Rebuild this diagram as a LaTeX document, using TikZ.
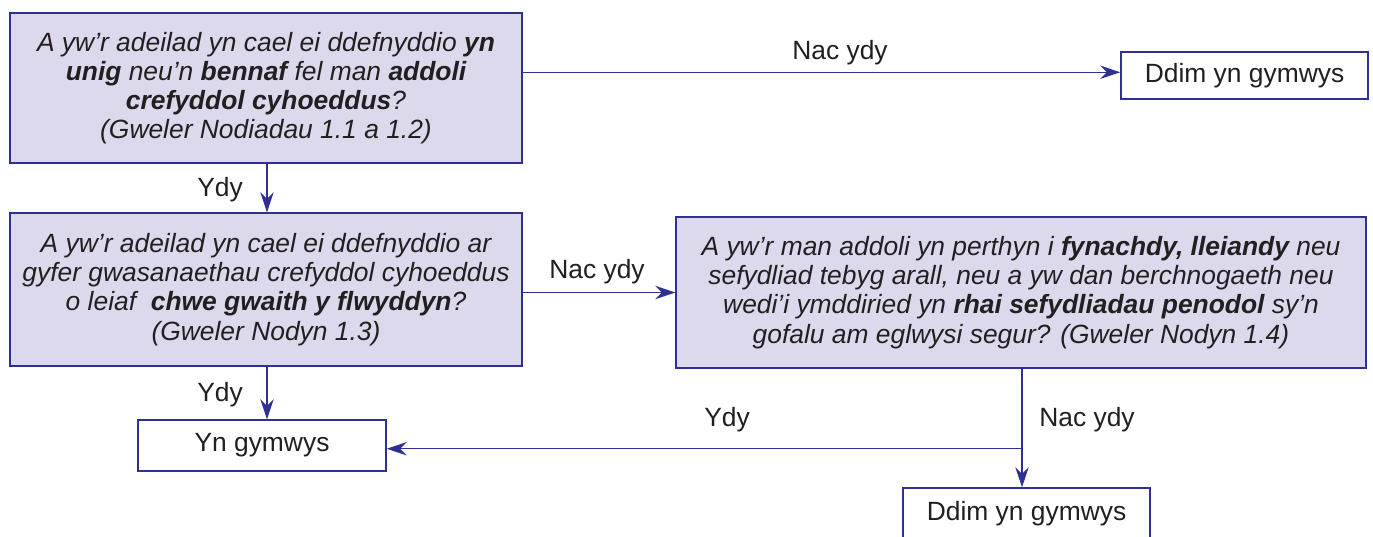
\documentclass[tikz,border=0pt]{standalone}
\usepackage{fontspec}
\setmainfont{Liberation Sans}
\usetikzlibrary{arrows.meta,calc}
\definecolor{navy}{HTML}{2E3192}
\definecolor{boxfill}{HTML}{DDD9ED}
\definecolor{txt}{HTML}{231F20}
\begin{document}
\begin{tikzpicture}[x=0.75pt,y=-0.75pt,
  qbox/.style={draw=navy, line width=1.1pt, fill=boxfill, text=txt, align=center, inner sep=0pt,
    font={\fontsize{19.8}{21.9}\selectfont\itshape}},
  abox/.style={draw=navy, line width=1.1pt, fill=white, text=txt, align=center, inner sep=0pt,
    font={\fontsize{19.8}{21.9}\selectfont}},
  lbl/.style={text=txt, inner sep=0pt, font={\fontsize{19.8}{21.9}\selectfont}},
  conn/.style={draw=navy, line width=1.1pt, -{Stealth[length=15pt,width=10pt,inset=5pt]}}]
\useasboundingbox (0,0) rectangle (1373,536);
\clip (0,0) rectangle (1373,536);

\node[qbox, minimum width=384pt, minimum height=112.5pt] (q1) at (266,88)
  {A yw’r adeilad yn cael ei ddefnyddio \textbf{yn}\\
   \textbf{unig} neu’n \textbf{bennaf} fel man \textbf{addoli}\\
   \textbf{crefyddol cyhoeddus}?\\
   (Gweler Nodiadau 1.1 a 1.2)};

\node[abox, minimum width=185.25pt, minimum height=35.25pt] (d1) at (1244.5,75.5) {Ddim yn gymwys};

\node[qbox, minimum width=384pt, minimum height=114.75pt] (q2) at (266,289.5)
  {A yw’r adeilad yn cael ei ddefnyddio ar\\
   gyfer gwasanaethau crefyddol cyhoeddus\\
   o leiaf \ \textbf{chwe gwaith y flwyddyn}?\\
   (Gweler Nodyn 1.3)};

\node[qbox, minimum width=517.5pt, minimum height=113.25pt] (q3) at (1021,292.5)
  {A yw’r man addoli yn perthyn i \textbf{fynachdy, lleiandy} neu\\
   sefydliad tebyg arall, neu a yw dan berchnogaeth neu\\
   wedi’i ymddiried yn \textbf{rhai sefydliadau penodol} sy’n\\
   gofalu am eglwysi segur? (Gweler Nodyn 1.4)};

\node[abox, minimum width=186pt, minimum height=38.25pt] (y1) at (262,445.5) {Yn gymwys};

\node[abox, minimum width=185.25pt, minimum height=38.25pt] (d2) at (1026.5,513.5) {Ddim yn gymwys};

% connectors
\path (q1.north east) ++(0,60) coordinate (s1);
\draw[conn] (s1) -- (s1 -| d1.west);
\node[lbl] (l1) at (840,53) {Nac ydy};

\path (267,0) coordinate (xa);
\draw[conn] (q1.south -| xa) -- (q2.north -| xa);
\node[lbl] (l2) at (220,190) {Ydy};

\draw[conn] (q2.east |- q3.west) -- (q3.west);
\node[lbl] (l3) at (597,272) {Nac ydy};

\draw[conn] (q2.south -| xa) -- (y1.north -| xa);
\node[lbl] (l4) at (220,395) {Ydy};

\path (1022,0) coordinate (xb);
\path (q3.south -| xb) coordinate (b3);
\path (b3) ++(0,80) coordinate (jn);
\draw[conn] (b3) -- (d2.north -| b3);
\draw[conn] (jn) -- (jn -| y1.east);
\node[lbl] (l5) at (727,420) {Ydy};
\node[lbl] (l6) at (1087,420) {Nac ydy};
\end{tikzpicture}
\end{document}
